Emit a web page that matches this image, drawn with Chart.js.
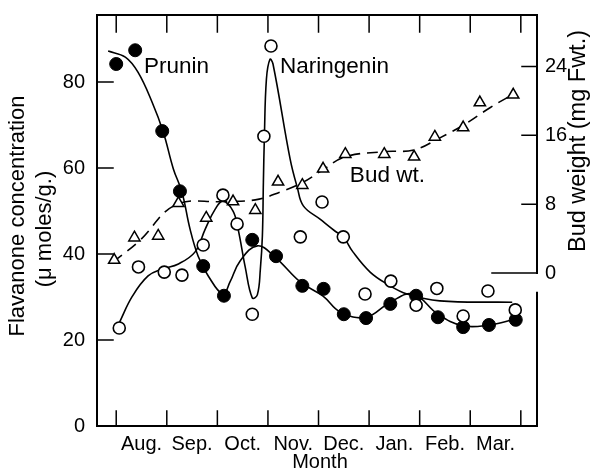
<!DOCTYPE html>
<html lang="en">
<head>
<meta charset="UTF-8" />
<title>Flavanone concentration</title>
<script src="https://cdn.jsdelivr.net/npm/chart.js"></script>
<style>
  body { margin: 0; background: #fff; }
</style>
</head>
<body>
<canvas id="chart" width="590" height="471"></canvas>
<script>
// months sit between the tick marks (tick 0 = start of Aug.)
const months = ['Aug.', 'Sep.', 'Oct.', 'Nov.', 'Dec.', 'Jan.', 'Feb.', 'Mar.'];
const monthTicks = [0, 1, 2, 3, 4, 5, 6, 7, 8];
const leftTicks = [20, 40, 60, 80];
const rightTicks = [0, 8, 16, 24];

// measured points (x = months from start of Aug.)
const pruninX = [0, 0.375, 0.91, 1.26, 1.72, 2.13, 2.69, 3.16, 3.68, 4.1, 4.5, 4.94, 5.42, 5.93, 6.36, 6.86, 7.37, 7.9];
const pruninY = [84.2, 87.4, 68.6, 54.6, 37.2, 30.3, 43.3, 39.5, 32.6, 31.9, 26, 25.1, 28.4, 30.3, 25.3, 23, 23.5, 24.7];

const naringX = [0.06, 0.44, 0.95, 1.3, 1.72, 2.11, 2.39, 2.69, 2.92, 3.06, 3.64, 4.07, 4.49, 4.92, 5.43, 5.93, 6.34, 6.86, 7.35, 7.89];
const naringY = [22.8, 37, 35.8, 35.1, 42.1, 53.7, 47, 26, 67.4, 88.4, 44, 52.1, 44, 30.7, 33.7, 28.1, 32, 25.6, 31.4, 27];

const budX = [-0.04, 0.36, 0.83, 1.23, 1.78, 2.31, 2.75, 3.2, 3.68, 4.09, 4.53, 5.3, 5.89, 6.3, 6.86, 7.19, 7.85];
const budY = [1.5, 4.1, 4.3, 8.1, 6.4, 8.3, 7.3, 10.6, 10.2, 12.1, 13.8, 13.8, 13.5, 15.8, 16.9, 19.8, 20.7];

// hand-drawn fitted curves
const pruninFitX = [-0.16, 0.18, 0.43, 0.71, 0.93, 1.13, 1.3, 1.46, 1.62, 1.82, 2.11, 2.25, 2.45, 2.79, 3.14, 3.64, 4.09, 4.43, 4.94, 5.42, 5.87, 6.36, 6.86, 7.37, 7.9];
const pruninFitY = [87.2, 85.8, 82.3, 75.3, 68.4, 59.8, 54.4, 45.8, 39.5, 34.9, 30.7, 33.5, 38.4, 41.9, 39.3, 33.5, 30.2, 26.5, 25.3, 28.8, 30.7, 26, 23.3, 23.5, 24.9];

const naringFitX = [0.06, 0.32, 0.63, 0.91, 1.23, 1.56, 1.76, 1.96, 2.11, 2.31, 2.41, 2.55, 2.69, 2.79, 2.85, 2.89, 2.91, 2.93, 2.97, 3.04, 3.1, 3.44, 3.58, 3.7, 4.03, 4.33, 4.49, 4.68, 5.02, 5.36, 5.75, 6.4, 7.83];
const naringFitY = [24, 30.2, 34.9, 36.5, 37.7, 40.5, 45.8, 50.5, 52.3, 50, 45.8, 37, 29.8, 30.5, 36.5, 44.2, 56.7, 67.4, 80.7, 85.3, 84.2, 62, 55.5, 51.2, 48.1, 45.3, 44, 40.5, 35.8, 33, 30.7, 29.1, 28.8];

const budFitX = [-0.06, 0.47, 1.17, 2.09, 2.75, 3.24, 3.68, 4.09, 4.53, 5.3, 5.89, 6.4, 6.9, 7.39, 7.89];
const budFitY = [1.3, 3.8, 7.9, 8.3, 8.5, 9.4, 10.5, 12, 13.5, 14.1, 14.3, 15.7, 17.3, 19.2, 20.9];

const pts = (xs, ys) => xs.map((x, i) => ({ x: x, y: ys[i] }));

const FONT = 'Liberation Sans, Arial, sans-serif';

// frame, inward ticks, titles and series names
const decorations = {
    id: 'decorations',
    afterDraw(chart) {
        const c = chart.ctx;
        const a = chart.chartArea;
        const sx = chart.scales.x, sy = chart.scales.y, sr = chart.scales.y2;
        c.save();
        c.strokeStyle = '#000';
        c.lineWidth = 2;
        c.lineCap = 'square';
        c.beginPath();
        c.moveTo(a.left, a.top); c.lineTo(a.right, a.top);
        c.moveTo(a.left, a.top); c.lineTo(a.left, a.bottom);
        c.moveTo(a.left, a.bottom); c.lineTo(a.right, a.bottom);
        // right axis is broken just below its zero
        c.moveTo(a.right, a.top); c.lineTo(a.right, sr.getPixelForValue(0));
        c.moveTo(a.right, sr.getPixelForValue(-2.3)); c.lineTo(a.right, a.bottom);
        c.stroke();

        c.lineWidth = 1.5;
        c.beginPath();
        monthTicks.forEach(v => {
            const px = sx.getPixelForValue(v);
            c.moveTo(px, a.bottom); c.lineTo(px, a.bottom - 15);
            c.moveTo(px, a.top); c.lineTo(px, a.top + 17);
        });
        leftTicks.forEach(v => {
            const py = sy.getPixelForValue(v);
            c.moveTo(a.left, py); c.lineTo(a.left + 16, py);
        });
        rightTicks.forEach(v => {
            const py = sr.getPixelForValue(v);
            c.moveTo(a.right, py); c.lineTo(a.right - (v === 0 ? 45 : 15), py);
        });
        c.stroke();

        c.fillStyle = '#000';
        c.textAlign = 'center';
        c.textBaseline = 'middle';
        c.font = '20px ' + FONT;
        c.fillText('Month', 320, 462);

        c.save();
        c.translate(18, 216);
        c.rotate(-Math.PI / 2);
        c.font = '22px ' + FONT;
        c.fillText('Flavanone concentration', 0, 0);
        c.restore();

        c.save();
        c.translate(45, 229);
        c.rotate(-Math.PI / 2);
        c.font = '22px ' + FONT;
        c.fillText('(\u03bc moles/g.)', 0, 0);
        c.restore();

        c.save();
        c.translate(579, 141);
        c.rotate(-Math.PI / 2);
        c.font = '23.5px ' + FONT;
        c.fillText('Bud weight (mg Fwt.)', 0, 0);
        c.restore();

        c.textAlign = 'left';
        c.font = '22.5px ' + FONT;
        c.fillText('Prunin', sx.getPixelForValue(0.55), sy.getPixelForValue(83.5));
        c.fillText('Naringenin', sx.getPixelForValue(3.24), sy.getPixelForValue(83.5));
        c.fillText('Bud wt.', sx.getPixelForValue(4.62), sr.getPixelForValue(11.3));
        c.restore();
    }
};

const curve = (data, axis, dash) => ({
    type: 'line',
    data: data,
    yAxisID: axis,
    borderColor: '#000',
    borderWidth: 1.6,
    borderDash: dash || [],
    pointRadius: 0,
    tension: 0.4,
    fill: false,
    order: 2
});

// keep the plot box where the figure has it: no extra room for edge labels
const noEdgePadding = s => {
    s.paddingTop = 0;
    s.paddingBottom = 0;
    s.paddingLeft = 0;
    s.paddingRight = 0;
};

new Chart(document.getElementById('chart'), {
    type: 'scatter',
    data: {
        datasets: [
            curve(pts(pruninFitX, pruninFitY), 'y'),
            curve(pts(naringFitX, naringFitY), 'y'),
            curve(pts(budFitX, budFitY), 'y2', [11, 7]),
            {
                label: 'Prunin',
                data: pts(pruninX, pruninY),
                yAxisID: 'y',
                pointStyle: 'circle',
                pointRadius: 6.5,
                backgroundColor: '#000',
                borderColor: '#000',
                borderWidth: 1,
                order: 1
            },
            {
                label: 'Naringenin',
                data: pts(naringX, naringY),
                yAxisID: 'y',
                pointStyle: 'circle',
                pointRadius: 6,
                backgroundColor: '#fff',
                borderColor: '#000',
                borderWidth: 1.6,
                order: 0
            },
            {
                label: 'Bud wt.',
                data: pts(budX, budY),
                yAxisID: 'y2',
                pointStyle: 'triangle',
                pointRadius: 6.5,
                backgroundColor: '#fff',
                borderColor: '#000',
                borderWidth: 1.5,
                order: 0
            }
        ]
    },
    options: {
        responsive: false,
        animation: false,
        layout: { padding: { top: 15, left: 0, right: 0, bottom: 0 } },
        plugins: {
            legend: { display: false },
            tooltip: { enabled: false }
        },
        scales: {
            x: {
                type: 'linear',
                min: -0.38,
                max: 8.32,
                grid: { display: false, drawTicks: false },
                border: { display: false },
                afterBuildTicks: s => { s.ticks = months.map((m, i) => ({ value: i + 0.5 })); },
                afterFit: s => { s.height = 45; noEdgePadding(s); },
                ticks: {
                    autoSkip: false,
                    maxRotation: 0,
                    padding: 6,
                    color: '#000',
                    font: { family: FONT, size: 20 },
                    callback: (v, i) => months[i]
                }
            },
            y: {
                position: 'left',
                min: 0,
                max: 95.6,
                grid: { display: false, drawTicks: false },
                border: { display: false },
                afterFit: s => { s.width = 97; noEdgePadding(s); },
                ticks: {
                    stepSize: 20,
                    includeBounds: false,
                    padding: 12,
                    color: '#000',
                    font: { family: FONT, size: 20 }
                }
            },
            y2: {
                position: 'right',
                min: -17.77,
                max: 29.97,
                grid: { display: false, drawTicks: false },
                border: { display: false },
                afterBuildTicks: s => { s.ticks = rightTicks.map(v => ({ value: v })); },
                afterFit: s => { s.width = 53; noEdgePadding(s); },
                ticks: {
                    padding: 8,
                    color: '#000',
                    font: { family: FONT, size: 20 }
                }
            }
        }
    },
    plugins: [decorations]
});
</script>
</body>
</html>
